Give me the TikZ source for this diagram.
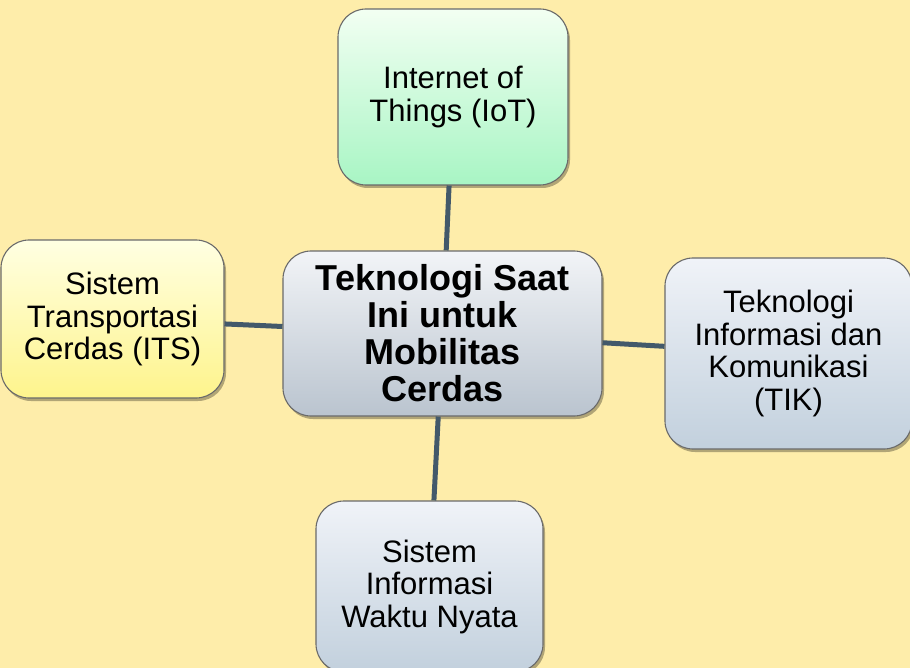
\documentclass[tikz,border=0pt]{standalone}
\usepackage{fontspec}
\setmainfont{Liberation Sans}
\usetikzlibrary{shadows}
\definecolor{bg}{HTML}{FEEDAA}
\definecolor{linkc}{HTML}{43596A}
\definecolor{edgec}{HTML}{6A6A6A}
\tikzset{
  box/.style={rectangle, rounded corners=28pt, draw=edgec, line width=1.1pt,
    align=center, inner sep=0pt,
    drop shadow={shadow xshift=2pt, shadow yshift=-3pt, opacity=0.3, fill=black},
    font=\fontsize{31}{32.5}\selectfont},
  link/.style={draw=linkc, line width=5pt},
}
\begin{document}
\begin{tikzpicture}[x=1pt,y=-1pt]
\useasboundingbox (0,0) rectangle (910,668);
\clip (0,0) rectangle (910,668);
\fill[bg] (0,0) rectangle (910,668);
\node[box, minimum width=230pt, minimum height=176pt, top color=green!5!white, bottom color={rgb,255:red,168;green,245;blue,196}] (iot) at (453,97) {Internet of\\Things (IoT)};
\node[box, minimum width=319pt, minimum height=165pt, top color={rgb,255:red,242;green,244;blue,247}, bottom color={rgb,255:red,186;green,196;blue,207}, font=\fontsize{36}{37}\selectfont\bfseries] (c) at (442.5,333.5) {Teknologi Saat\\Ini untuk\\Mobilitas\\Cerdas};
\node[box, minimum width=223pt, minimum height=158pt, top color={rgb,255:red,255;green,255;blue,226}, bottom color={rgb,255:red,254;green,244;blue,140}] (its) at (112.5,319) {Sistem\\Transportasi\\Cerdas (ITS)};
\node[box, minimum width=247pt, minimum height=191pt, top color={rgb,255:red,240;green,243;blue,248}, bottom color={rgb,255:red,194;green,208;blue,221}] (tik) at (788.5,353.5) {Teknologi\\Informasi dan\\Komunikasi\\(TIK)};
\node[box, minimum width=227pt, minimum height=171pt, top color={rgb,255:red,240;green,243;blue,248}, bottom color={rgb,255:red,194;green,208;blue,221}] (siwn) at (429.5,586.5) {Sistem\\Informasi\\Waktu Nyata};
\draw[link] (iot) -- (c);
\draw[link] (its) -- (c);
\draw[link] (tik) -- (c);
\draw[link] (siwn) -- (c);
\end{tikzpicture}
\end{document}
